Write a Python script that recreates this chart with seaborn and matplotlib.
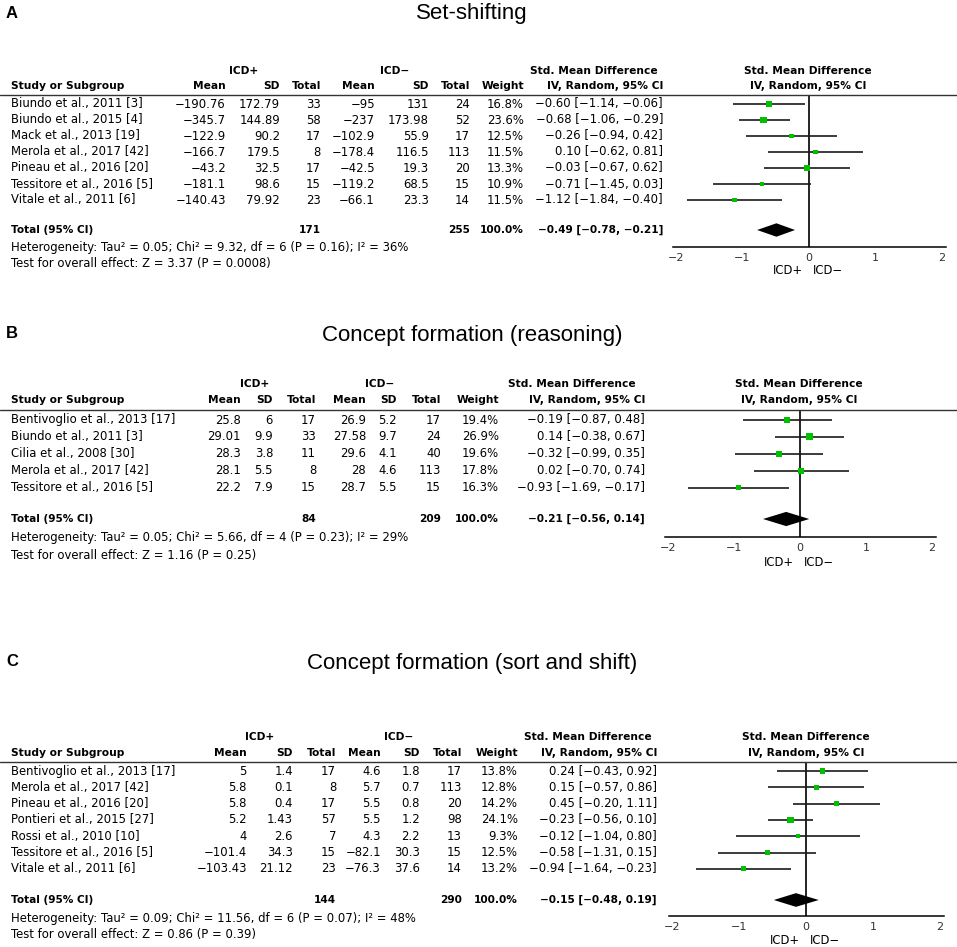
import matplotlib
matplotlib.use("Agg")
import matplotlib.pyplot as plt
from matplotlib.lines import Line2D
import pandas as pd
import seaborn as sns

# ---------------- A: set-shifting ----------------
a_study = ["Biundo et al., 2011 [3]", "Biundo et al., 2015 [4]", "Mack et al., 2013 [19]",
           "Merola et al., 2017 [42]", "Pineau et al., 2016 [20]",
           "Tessitore et al., 2016 [5]", "Vitale et al., 2011 [6]"]
a_mean_pos = [-190.76, -345.7, -122.9, -166.7, -43.2, -181.1, -140.43]
a_sd_pos = [172.79, 144.89, 90.2, 179.5, 32.5, 98.6, 79.92]
a_n_pos = [33, 58, 17, 8, 17, 15, 23]
a_mean_neg = [-95, -237, -102.9, -178.4, -42.5, -119.2, -66.1]
a_sd_neg = [131, 173.98, 55.9, 116.5, 19.3, 68.5, 23.3]
a_n_neg = [24, 52, 17, 113, 20, 15, 14]
a_weight = [16.8, 23.6, 12.5, 11.5, 13.3, 10.9, 11.5]
a_smd = [-0.60, -0.68, -0.26, 0.10, -0.03, -0.71, -1.12]
a_lo = [-1.14, -1.06, -0.94, -0.62, -0.67, -1.45, -1.84]
a_hi = [-0.06, -0.29, 0.42, 0.81, 0.62, 0.03, -0.40]
a_totals = [171, 255, 100.0]  # n ICD+, n ICD-, weight %
a_pooled = [-0.49, -0.78, -0.21]
a_stats = [0.05, 9.32, 6, 0.16, 36, 3.37, 0.0008]  # tau2, chi2, df, P, I2, Z, P

# ---------------- B: concept formation (reasoning) ----------------
b_study = ["Bentivoglio et al., 2013 [17]", "Biundo et al., 2011 [3]", "Cilia et al., 2008 [30]",
           "Merola et al., 2017 [42]", "Tessitore et al., 2016 [5]"]
b_mean_pos = [25.8, 29.01, 28.3, 28.1, 22.2]
b_sd_pos = [6, 9.9, 3.8, 5.5, 7.9]
b_n_pos = [17, 33, 11, 8, 15]
b_mean_neg = [26.9, 27.58, 29.6, 28, 28.7]
b_sd_neg = [5.2, 9.7, 4.1, 4.6, 5.5]
b_n_neg = [17, 24, 40, 113, 15]
b_weight = [19.4, 26.9, 19.6, 17.8, 16.3]
b_smd = [-0.19, 0.14, -0.32, 0.02, -0.93]
b_lo = [-0.87, -0.38, -0.99, -0.70, -1.69]
b_hi = [0.48, 0.67, 0.35, 0.74, -0.17]
b_totals = [84, 209, 100.0]
b_pooled = [-0.21, -0.56, 0.14]
b_stats = [0.05, 5.66, 4, 0.23, 29, 1.16, 0.25]

# ---------------- C: concept formation (sort and shift) ----------------
c_study = ["Bentivoglio et al., 2013 [17]", "Merola et al., 2017 [42]", "Pineau et al., 2016 [20]",
           "Pontieri et al., 2015 [27]", "Rossi et al., 2010 [10]",
           "Tessitore et al., 2016 [5]", "Vitale et al., 2011 [6]"]
c_mean_pos = [5, 5.8, 5.8, 5.2, 4, -101.4, -103.43]
c_sd_pos = [1.4, 0.1, 0.4, 1.43, 2.6, 34.3, 21.12]
c_n_pos = [17, 8, 17, 57, 7, 15, 23]
c_mean_neg = [4.6, 5.7, 5.5, 5.5, 4.3, -82.1, -76.3]
c_sd_neg = [1.8, 0.7, 0.8, 1.2, 2.2, 30.3, 37.6]
c_n_neg = [17, 113, 20, 98, 13, 15, 14]
c_weight = [13.8, 12.8, 14.2, 24.1, 9.3, 12.5, 13.2]
c_smd = [0.24, 0.15, 0.45, -0.23, -0.12, -0.58, -0.94]
c_lo = [-0.43, -0.57, -0.20, -0.56, -1.04, -1.31, -1.64]
c_hi = [0.92, 0.86, 1.11, 0.10, 0.80, 0.15, -0.23]
c_totals = [144, 290, 100.0]
c_pooled = [-0.15, -0.48, 0.19]
c_stats = [0.09, 11.56, 6, 0.07, 48, 0.86, 0.39]

W, H = 957, 947
GREEN = "#00c000"
FS = 8.4     # table body
FSB = 7.7    # bold headers
FST = 7.6    # bold total row

sns.set_style("white")
plt.rcParams["font.family"] = ["DejaVu Sans"]

fig = plt.figure(figsize=(W / 100, H / 100), dpi=100)


def put(x, y, s, ha="right", bold=False, size=None, color="black", **kw):
    if size is None:
        size = FSB if bold else FS
    fig.text(x / W, 1 - y / H, s, ha=ha, va="center", fontsize=size, color=color,
             fontweight="bold" if bold else "normal", **kw)


def num(v):
    return f"{v:g}".replace("-", "\u2212")


def ci(e, lo, hi):
    return f"{e:.2f} [{lo:.2f}, {hi:.2f}]".replace("-", "\u2212")


def panel(letter, title, lay, study, mp, sp, npos, mn, sn, nneg, weight, smd, lo, hi,
          totals, pooled, stats):
    col = lay["cols"]
    put(6, lay["label_y"], letter, ha="left", bold=True, size=12, family="Liberation Sans")
    put(472, lay["title_y"], title, ha="center", size=16, family="Liberation Sans")

    # headers
    put(lay["icd"][0], lay["hdr1"], "ICD+", ha="center", bold=True)
    put(lay["icd"][1], lay["hdr1"], "ICD\u2212", ha="center", bold=True)
    put(lay["smd"][0], lay["hdr1"], "Std. Mean Difference", ha="center", bold=True)
    put(lay["smd"][1], lay["hdr1"], "Std. Mean Difference", ha="center", bold=True)
    put(lay["smd"][1], lay["hdr2"], "IV, Random, 95% CI", ha="center", bold=True)
    put(11, lay["hdr2"], "Study or Subgroup", ha="left", bold=True)
    for x, s in zip(col, ["Mean", "SD", "Total", "Mean", "SD", "Total", "Weight",
                          "IV, Random, 95% CI"]):
        put(x, lay["hdr2"], s, bold=True)
    fig.add_artist(Line2D([0, 1], [1 - lay["rule"] / H] * 2, color="#333333", lw=1.0))

    # study rows
    for i in range(len(study)):
        y = lay["row0"] + i * lay["dy"]
        put(11, y, study[i], ha="left")
        vals = [num(mp[i]), num(sp[i]), str(npos[i]), num(mn[i]), num(sn[i]), str(nneg[i]),
                f"{weight[i]:.1f}%", ci(smd[i], lo[i], hi[i])]
        for x, s in zip(col, vals):
            put(x, y, s)

    # totals
    put(11, lay["total"], "Total (95% CI)", ha="left", bold=True, size=FST)
    put(col[2], lay["total"], str(totals[0]), bold=True, size=FST)
    put(col[5], lay["total"], str(totals[1]), bold=True, size=FST)
    put(col[6], lay["total"], f"{totals[2]:.1f}%", bold=True, size=FST)
    put(col[7], lay["total"], ci(*pooled), bold=True, size=FST)
    tau2, chi2, df_, p1, i2, z, p2 = stats
    put(11, lay["het"], f"Heterogeneity: Tau\u00b2 = {tau2:g}; Chi\u00b2 = {chi2:g}, df = {df_} "
                        f"(P = {p1:g}); I\u00b2 = {i2}%", ha="left")
    put(11, lay["test"], f"Test for overall effect: Z = {z:g} (P = {p2:g})", ha="left")

    # forest plot
    zero, unit = lay["zero"], lay["unit"]
    left = zero - 2.5 * unit
    ax = fig.add_axes([left / W, 1 - lay["axis"] / H, 5 * unit / W,
                       (lay["axis"] - lay["rule"]) / H])
    ax.patch.set_alpha(0)
    df = pd.DataFrame({"row": range(len(study)), "smd": smd, "lo": lo, "hi": hi,
                       "weight": weight})
    ax.hlines(df["row"], df["lo"], df["hi"], color="#1a1a1a", lw=1.2, zorder=2)
    sns.scatterplot(data=df, x="smd", y="row", size="weight", sizes=(9, 26),
                    size_norm=(9, 27), marker="s", color=GREEN, linewidth=0,
                    legend=False, ax=ax, zorder=3)
    ty = (lay["total"] - lay["row0"]) / lay["dy"]
    e, l, h = pooled
    ax.fill([l, e, h, e], [ty, ty - 0.42, ty, ty + 0.42], color="black", lw=0, zorder=3)
    ax.axvline(0, color="black", lw=1.2, zorder=1)
    ax.set_xlim(-2.5, 2.5)
    ax.set_ylim((lay["axis"] - lay["row0"]) / lay["dy"], (lay["rule"] - lay["row0"]) / lay["dy"])
    ax.set_xlabel("")
    ax.set_ylabel("")
    ax.set_yticks([])
    ax.set_xticks([-2, -1, 0, 1, 2])
    ax.set_xticklabels(["\u22122", "\u22121", "0", "1", "2"])
    for s in ["top", "left", "right"]:
        ax.spines[s].set_visible(False)
    ax.spines["bottom"].set_color("black")
    ax.spines["bottom"].set_linewidth(1.1)
    ax.spines["bottom"].set_bounds(-2.04, 2.06)
    ax.tick_params(axis="x", direction="inout", length=8, width=1, labelsize=8,
                   pad=0, colors="black", labelcolor="#333333")
    put(zero - 6, lay["icd_y"], "ICD+")
    put(zero + 4, lay["icd_y"], "ICD\u2212", ha="left")


lay_a = dict(label_y=13, title_y=13, hdr1=71, hdr2=86, rule=95.5, row0=104, dy=16, total=230,
             het=247, test=264, cols=[226, 280, 321, 375, 429, 470, 524, 663],
             icd=[244, 395], smd=[594, 808], zero=809, unit=66.5, axis=247, icd_y=270)
lay_b = dict(label_y=333, title_y=335, hdr1=384, hdr2=400, rule=410, row0=420, dy=16.9,
             total=519, het=538, test=555, cols=[241, 273, 316, 366, 397, 441, 499, 645],
             icd=[255, 380], smd=[572, 799], zero=800, unit=66, axis=537, icd_y=562)
lay_c = dict(label_y=662, title_y=664, hdr1=737, hdr2=753, rule=762, row0=771, dy=16.33,
             total=900, het=918, test=934, cols=[247, 293, 336, 381, 420, 462, 518, 657],
             icd=[260, 399], smd=[588, 806], zero=806, unit=67, axis=916, icd_y=940)

panel("A", "Set-shifting", lay_a, a_study, a_mean_pos, a_sd_pos, a_n_pos, a_mean_neg,
      a_sd_neg, a_n_neg, a_weight, a_smd, a_lo, a_hi, a_totals, a_pooled, a_stats)
panel("B", "Concept formation (reasoning)", lay_b, b_study, b_mean_pos, b_sd_pos, b_n_pos,
      b_mean_neg, b_sd_neg, b_n_neg, b_weight, b_smd, b_lo, b_hi, b_totals, b_pooled, b_stats)
panel("C", "Concept formation (sort and shift)", lay_c, c_study, c_mean_pos, c_sd_pos, c_n_pos,
      c_mean_neg, c_sd_neg, c_n_neg, c_weight, c_smd, c_lo, c_hi, c_totals, c_pooled, c_stats)

fig.savefig("out.png", dpi=100, facecolor="white")
